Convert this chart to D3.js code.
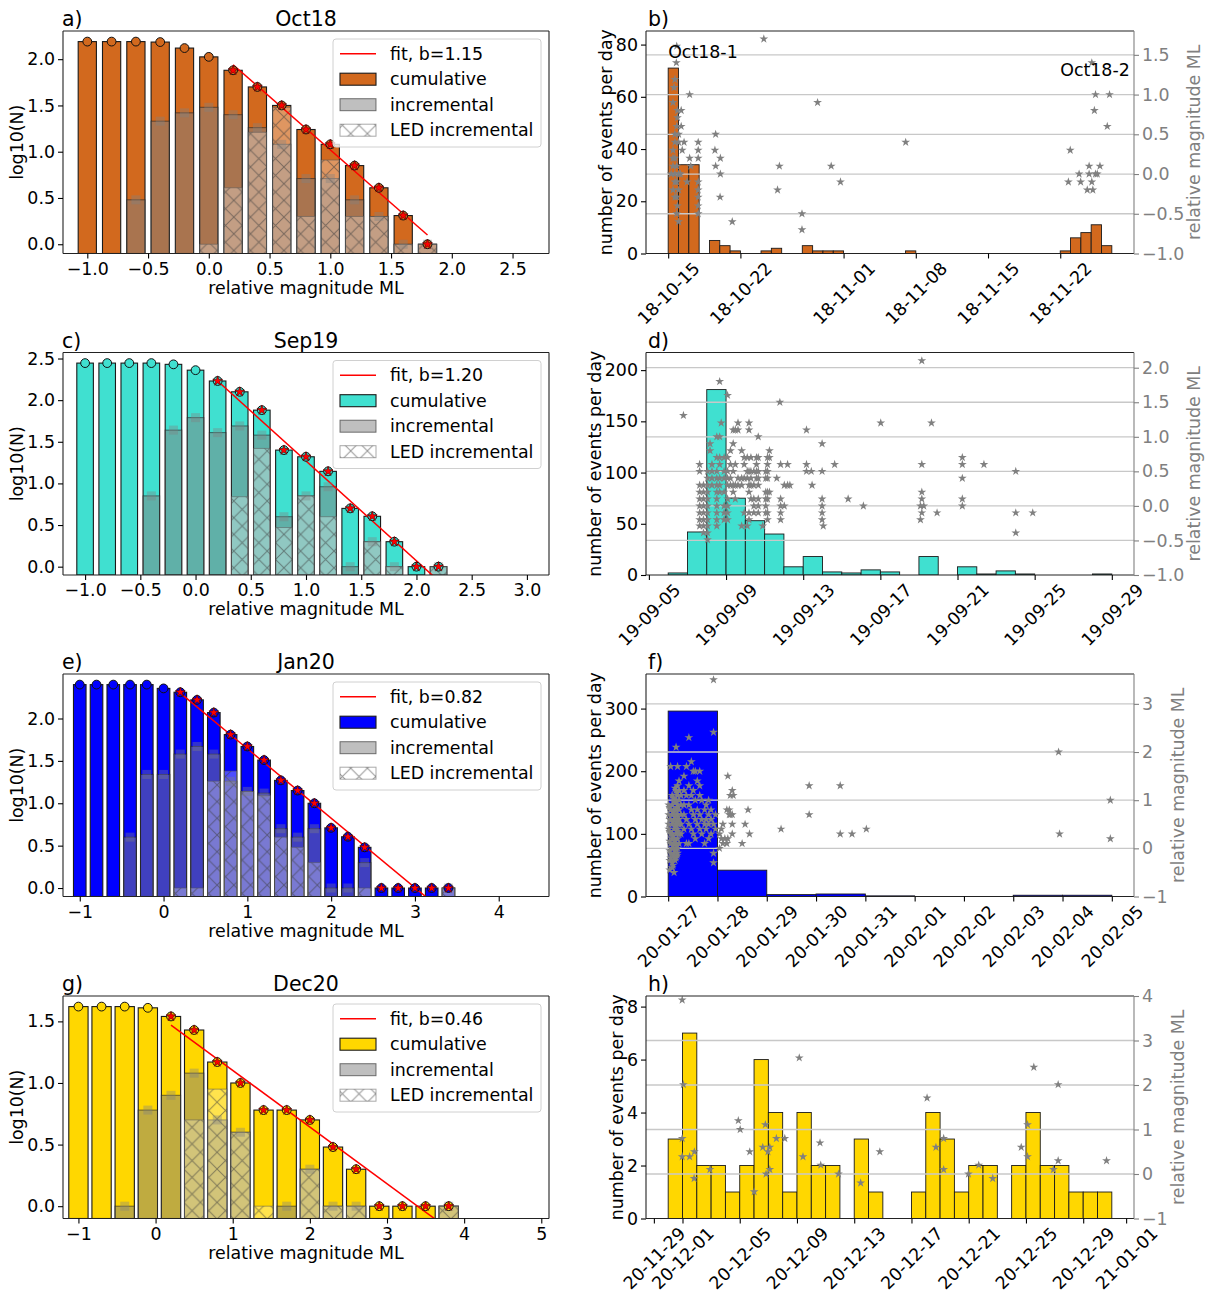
<!DOCTYPE html>
<html>
<head>
<meta charset="utf-8">
<script src="https://cdn.jsdelivr.net/npm/d3@7"></script>
<style>
  body { margin: 0; background: #fff; }
  svg { display: block; }
  text { font-family: "DejaVu Sans", sans-serif; }
</style>
</head>
<body>
<svg id="fig" width="1210" height="1293"></svg>
<script>
// ---------------- magnitude-frequency data (log10 N per magnitude bin) ----------------
const oct18Mag = [-1.0, -0.8, -0.6, -0.4, -0.2, 0.0, 0.2, 0.4, 0.6, 0.8, 1.0, 1.2, 1.4, 1.6, 1.8];
const oct18Cum = [2.19, 2.19, 2.19, 2.185, 2.12, 2.025, 1.88, 1.70, 1.50, 1.24, 1.08, 0.85, 0.61, 0.31, 0.0];
const oct18Inc = [null, null, 0.48, 1.33, 1.42, 1.48, 1.40, 1.26, 1.08, 0.71, 0.71, 0.48, 0.30, 0.0, 0.0];
const oct18Led = [null, null, null, null, null, 0.0, 0.61, 1.21, 1.48, 0.30, 0.91, 0.30, 0.30, 0.0, 0.0];

const sep19Mag = [-1.0, -0.8, -0.6, -0.4, -0.2, 0.0, 0.2, 0.4, 0.6, 0.8, 1.0, 1.2, 1.4, 1.6, 1.8, 2.0, 2.2];
const sep19Cum = [2.445, 2.445, 2.445, 2.445, 2.43, 2.36, 2.23, 2.10, 1.88, 1.40, 1.32, 1.145, 0.70, 0.605, 0.30, 0.0, 0.0];
const sep19Inc = [null, null, null, 0.85, 1.64, 1.79, 1.61, 1.69, 1.58, 0.60, 0.85, 0.96, 0.0, 0.30, 0.0, null, 0.0];
const sep19Led = [null, null, null, null, null, null, null, 0.84, 1.42, 0.47, 0.85, 0.60, null, 0.30, 0.0, null, 0.0];

const jan20Mag = [-1.0, -0.8, -0.6, -0.4, -0.2, 0.0, 0.2, 0.4, 0.6, 0.8, 1.0, 1.2, 1.4, 1.6, 1.8, 2.0, 2.2, 2.4, 2.6, 2.8, 3.0, 3.2, 3.4];
const jan20Cum = [2.40, 2.40, 2.40, 2.40, 2.40, 2.355, 2.31, 2.22, 2.07, 1.81, 1.67, 1.51, 1.27, 1.15, 1.00, 0.71, 0.605, 0.48, 0.0, 0.0, 0.0, 0.0, 0.0];
const jan20Inc = [null, null, null, 0.60, 1.34, 1.34, 1.58, 1.67, 1.58, 1.26, 1.14, 1.12, 0.70, 0.60, 0.70, 0.0, 0.0, 0.30, null, null, null, null, 0.0];
const jan20Led = [null, null, null, null, null, null, 0.0, 0.0, 1.26, 1.38, 1.14, 1.09, 0.60, 0.48, 0.30, null, null, 0.0, null, null, null, null, 0.0];

const dec20Mag = [-1.0, -0.7, -0.4, -0.1, 0.2, 0.5, 0.8, 1.1, 1.4, 1.7, 2.0, 2.3, 2.6, 2.9, 3.2, 3.5, 3.8];
const dec20Cum = [1.62, 1.62, 1.62, 1.61, 1.54, 1.43, 1.17, 1.00, 0.78, 0.78, 0.70, 0.48, 0.30, 0.0, 0.0, 0.0, 0.0];
const dec20Inc = [null, null, 0.0, 0.78, 0.90, 1.08, 0.70, 0.60, null, 0.0, 0.30, 0.0, 0.0, null, null, null, 0.0];
const dec20Led = [null, null, null, null, null, 0.70, 0.95, 0.60, 0.0, null, 0.30, 0.0, 0.0, null, null, null, 0.0];

// Gutenberg-Richter fits: log10 N = a - b*M, from the completeness magnitude mc
const fitB  = [1.15, 1.20, 0.82, 0.46];
const fitA  = [2.17, 2.47, 2.464, 1.562];
const fitMc = [0.2, 0.2, 0.2, 0.2];

const oct18MagTicks = [-1.0, -0.5, 0.0, 0.5, 1.0, 1.5, 2.0, 2.5];
const sep19MagTicks = [-1.0, -0.5, 0.0, 0.5, 1.0, 1.5, 2.0, 2.5, 3.0];
const jan20MagTicks = [-1, 0, 1, 2, 3, 4];
const dec20MagTicks = [-1, 0, 1, 2, 3, 4, 5];
const oct18LogTicks = [0.0, 0.5, 1.0, 1.5, 2.0];
const sep19LogTicks = [0.0, 0.5, 1.0, 1.5, 2.0, 2.5];
const jan20LogTicks = [0.0, 0.5, 1.0, 1.5, 2.0];
const dec20LogTicks = [0.0, 0.5, 1.0, 1.5];

// ---------------- daily event counts ----------------
const oct18Start = "2018-10-15";
const oct18Counts = [71, 34, 34, 0, 5, 3, 1, 0, 0, 1, 2, 0, 0, 3, 1, 1, 1, 0, 0, 0, 0, 0, 0, 1,
  0, 0, 0, 0, 0, 0, 0, 0, 0, 0, 0, 0, 0, 0, 1, 6, 8, 11, 3];
const sep19Start = "2019-09-06";
const sep19Counts = [2, 42, 181, 75, 53, 40, 8, 18, 3, 2, 5, 3, 0, 18, 0, 8, 1, 4, 1, 0, 0, 0, 1];
const jan20Start = "2020-01-27";
const jan20Counts = [296, 42, 3, 4, 1, 0, 0, 2, 2];
const dec20Start = "2020-11-30";
const dec20Counts = [3, 7, 2, 2, 1, 2, 6, 4, 1, 4, 2, 2, 0, 3, 1, 0, 0, 1, 4, 3, 1, 2, 2, 0, 2, 4, 2, 2, 1, 1, 1];

const oct18DateTicks = ["2018-10-15", "2018-10-22", "2018-11-01", "2018-11-08", "2018-11-15", "2018-11-22"];
const sep19DateTicks = ["2019-09-05", "2019-09-09", "2019-09-13", "2019-09-17", "2019-09-21", "2019-09-25", "2019-09-29"];
const jan20DateTicks = ["2020-01-27", "2020-01-28", "2020-01-29", "2020-01-30", "2020-01-31", "2020-02-01", "2020-02-02", "2020-02-03", "2020-02-04", "2020-02-05"];
const dec20DateTicks = ["2020-11-29", "2020-12-01", "2020-12-05", "2020-12-09", "2020-12-13", "2020-12-17", "2020-12-21", "2020-12-25", "2020-12-29", "2021-01-01"];

const oct18CountTicks = [0, 20, 40, 60, 80];
const sep19CountTicks = [0, 50, 100, 150, 200];
const jan20CountTicks = [0, 100, 200, 300];
const dec20CountTicks = [0, 2, 4, 6, 8];

const oct18MlTicks = [-1.0, -0.5, 0.0, 0.5, 1.0, 1.5];
const sep19MlTicks = [-1.0, -0.5, 0.0, 0.5, 1.0, 1.5, 2.0];
const jan20MlTicks = [-1, 0, 1, 2, 3];
const dec20MlTicks = [-1, 0, 1, 2, 3, 4];
const oct18MlRange = [-1, 1.8];
const sep19MlRange = [-1, 2.22];
const jan20MlRange = [-1, 3.62];
const dec20MlRange = [-1, 4.0];

// ---------------- individual events: [days after reference, relative ML] ----------------
const oct18EventRef = "2018-10-15";
const oct18Events = [
  [0.83,1.61],[0.79,1.40],[0.65,1.19],[0.57,1.09],[0.47,0.90],[0.90,0.80],[1.26,0.80],[0.90,0.71],
  [0.83,0.60],[1.26,0.60],[0.65,0.50],[1.01,0.50],[1.54,0.40],[0.65,0.40],[1.01,0.40],[0.47,0.30],
  [1.36,0.30],[0.65,0.20],[0.47,0.20],[0.83,0.10],[0.47,0.10],[1.01,0.0],[0.65,0.0],[0.29,0.0],
  [1.19,0.0],[0.83,-0.10],[0.65,-0.10],[0.47,-0.20],[1.01,-0.20],[0.83,-0.29],[0.65,-0.29],[0.90,-0.40],
  [0.83,-0.50],[1.01,-0.60],[1.83,-0.10],[2.08,0.20],[2.08,1.00],[2.19,0.10],[2.91,0.40],[2.91,0.30],
  [2.91,0.20],[2.91,-0.10],[2.91,-0.20],[2.91,-0.29],[2.91,-0.40],[2.91,-0.50],[4.60,0.50],[4.53,0.30],
  [4.60,0.10],[5.06,0.20],[5.06,0.0],[5.03,-0.29],[6.21,-0.60],[9.27,1.70],[10.78,0.10],[10.60,-0.20],
  [12.97,-0.50],[12.97,-0.70],[14.48,0.90],[15.80,0.10],[16.70,-0.10],[23.02,0.40],[38.79,-0.10],
  [38.97,0.30],[39.83,0.0],[39.98,-0.10],[40.62,-0.20],[40.80,0.10],[40.80,0.0],[41.06,-0.10],
  [41.16,-0.20],[41.42,0.0],[41.59,0.0],[41.85,0.10],[41.06,1.40],[41.42,1.00],[41.31,0.80],
  [42.56,0.60],[42.78,1.00]
];

// events grouped by time: [days after reference, [relative ML, ...]]
const sep19EventRef = "2019-09-05";
const sep19EventColumns = [
  [1.79,[1.31]],
  [2.63,[0.60,0.50,0.30,0.20,0.10,0.0,-0.10,-0.20,-0.29]],
  [2.83,[0.30,0.20,0.10,0.0,-0.10,-0.20,-0.29,-0.39]],
  [3.04,[-0.49,-0.39,-0.29,-0.20,-0.10,0.0,0.10,0.20,0.30,0.40,0.50]],
  [3.17,[0.90,0.80]],
  [3.27,[0.60,0.50,0.40,0.30]],
  [3.52,[1.00,0.70,0.50,0.40,0.30,0.20,0.10,0.0,-0.10,-0.20,-0.29]],
  [3.67,[1.80,1.00,0.70,0.60,0.40,0.30,0.20]],
  [3.75,[1.20]],
  [3.90,[0.70,0.50,0.40,0.20,0.0,-0.10,-0.20]],
  [4.08,[1.60,0.70,0.50,0.40,0.30,0.10,0.0,-0.10,-0.20]],
  [4.23,[0.80,0.60,0.40,0.30]],
  [4.37,[1.10,0.90,0.50,0.30,0.20]],
  [4.48,[1.10,0.60,0.30,0.10]],
  [4.62,[1.20,1.10,0.40,0.30]],
  [4.81,[0.80,0.40,0.30,-0.29]],
  [4.94,[0.70,0.60,0.40,-0.10]],
  [5.10,[0.70,0.50,0.40,-0.29]],
  [5.19,[1.20,1.10,0.50,0.30,0.20,-0.10,-0.20]],
  [5.29,[0.70,0.50,0.40,0.30,0.10]],
  [5.44,[0.50,0.30,0.10,0.0,-0.10]],
  [5.58,[0.70,0.60,0.50,0.40]],
  [5.67,[1.00,0.70,0.50,0.40,0.30,0.10,0.0,-0.10]],
  [5.90,[-0.29]],
  [6.06,[0.50,0.40,0.20,0.10,0.0,-0.10]],
  [6.15,[0.70,0.60,0.50,0.40,0.20,0.10,-0.10,-0.20]],
  [6.25,[0.80,0.70,0.20]],
  [6.63,[0.40]],
  [6.79,[1.50]],
  [6.83,[0.60,0.10,0.0,-0.10,-0.20]],
  [7.02,[0.30,0.0]],
  [7.19,[0.60,0.30]],
  [7.31,[0.30]],
  [8.17,[1.10,0.60,0.50]],
  [8.42,[0.50]],
  [8.46,[0.30]],
  [8.98,[0.90,0.50,0.10,0.0,-0.10,-0.20]],
  [9.04,[-0.29]],
  [9.63,[0.60]],
  [10.33,[0.10]],
  [11.12,[0.0]],
  [12.02,[1.20]],
  [14.08,[0.0,-0.20]],
  [14.15,[2.10,0.60,0.20,0.10,-0.10]],
  [14.25,[0.0]],
  [14.65,[1.20]],
  [14.94,[-0.10]],
  [16.25,[0.70,0.60,0.40,0.10,0.0]],
  [17.37,[0.60]],
  [19.02,[0.50,-0.10,-0.39]],
  [19.90,[-0.10]]
];

const jan20EventRef = "2020-01-27";
const jan20EventColumns = [
  [0.01,[0.90,0.70,0.50,0.40]],
  [0.03,[0.85,0.60,0.35,0.15,-0.05,-0.25,-0.45]],
  [0.05,[1.70,0.80,0.60,0.30,0.10,-0.10,-0.20]],
  [0.08,[1.10,0.90,0.70,0.50,0.30,0.20,0.0,-0.30,-0.40]],
  [0.10,[1.05,0.75,0.55,0.25,0.05,-0.15,-0.35]],
  [0.12,[1.00,0.80,0.60,0.40,0.20,0.10,-0.10,-0.20,-0.50]],
  [0.14,[1.25,0.95,0.65,0.45,0.15,-0.05,-0.25]],
  [0.16,[2.10,1.20,1.00,0.80,0.70,0.50,0.30,0.10,0.0,-0.20]],
  [0.18,[1.15,0.85,0.55,0.35,0.05,-0.15]],
  [0.19,[1.70,1.30,1.10,0.90,0.70,0.60,0.40,0.20,0.0,-0.10]],
  [0.22,[1.40,1.20,1.00,0.80,0.60,0.50,0.30,0.10]],
  [0.26,[1.10,0.90,0.70,0.50,0.30]],
  [0.32,[1.50,1.20,0.90,0.70,0.40]],
  [0.37,[1.70,1.10,0.60,0.10]],
  [0.42,[2.30,1.30,0.90,0.50,0.10]],
  [0.47,[1.80,1.10,0.80,0.40]],
  [0.51,[1.60,1.20,0.70,0.30]],
  [0.55,[1.60,1.00,0.60,0.20]],
  [0.59,[1.40,0.80,0.50]],
  [0.64,[1.60,1.30,1.10,0.70,0.40]],
  [0.68,[1.00,0.60,0.30]],
  [0.74,[0.80,0.50,0.10]],
  [0.77,[0.90,0.60,0.40]],
  [0.82,[1.00,0.70,0.50,0.20]],
  [0.87,[0.80,0.60,0.30]],
  [0.92,[3.50,2.41,0.50,-0.10,-0.30]],
  [0.96,[0.70,0.40]],
  [1.04,[0.30,0.0]],
  [1.08,[0.40,0.20]],
  [1.11,[0.50,0.10]],
  [1.15,[0.20]],
  [1.19,[0.80,0.10]],
  [1.21,[1.50,0.20]],
  [1.24,[0.80,0.70]],
  [1.26,[1.10,0.70]],
  [1.30,[1.20,0.70,0.50,0.30]],
  [1.32,[1.10]],
  [1.50,[0.10]],
  [1.56,[0.50]],
  [1.62,[0.80]],
  [1.65,[0.30]],
  [2.29,[0.40]],
  [2.86,[1.30,0.70]],
  [3.49,[1.30,0.30]],
  [3.73,[0.30]],
  [4.02,[0.40]],
  [7.92,[2.00]],
  [7.94,[0.30]],
  [8.97,[1.00,0.20]]
];

const dec20EventRef = "2020-11-30";
const dec20Events = [
  [0.98,3.91],[1.06,2.01],[0.98,0.80],[0.98,0.39],[1.50,0.39],[1.83,0.50],[1.81,-0.10],[2.92,0.10],
  [4.90,1.20],[5.03,1.00],[5.70,0.50],[6.01,-0.40],[6.61,0.60],[6.79,1.11],[6.97,0.50],[7.10,0.60],
  [6.84,0.0],[7.10,0.10],[7.56,0.80],[8.15,0.80],[9.16,2.61],[9.42,0.39],[10.61,0.70],[10.66,0.20],
  [11.90,0.0],[13.45,-0.20],[14.79,0.50],[18.09,1.71],[18.71,0.60],[19.25,0.80],[19.25,0.10],
  [20.98,0.0],[21.70,0.20],[22.68,-0.10],[24.67,0.60],[25.11,1.11],[25.11,0.39],[25.55,2.40],
  [26.92,0.10],[27.25,2.01],[27.25,0.30],[30.63,0.30]
];

// ---------------- layout ----------------
const PH = 222.5;
const ROWS = [31, 352.5, 674, 996];
const LX = [63, 549], RX = [646, 1134];
const FS = 17.4, TFS = 20.5;
const GRAY = "#808080";
const DAY = 864e5;

const svg = d3.select("#fig");
const defs = svg.append("defs");
const HS = 16.7;
const pat = defs.append("pattern").attr("id", "xhatch")
  .attr("patternUnits", "userSpaceOnUse").attr("width", HS).attr("height", HS);
pat.append("path").attr("d", `M0,0L${HS},${HS}M${HS},0L0,${HS}`)
  .attr("stroke", "rgba(60,60,60,0.55)").attr("stroke-width", 1).attr("fill", "none");

const utc = s => new Date(s + "T00:00:00Z");
const flatten = cols => cols.flatMap(([d, ms]) => ms.map(m => [d, m]));
const starSym = d3.symbol().type(d3.symbolStar);

function styleAxis(ax, color) {
  ax.select(".domain").remove();
  ax.selectAll("line").attr("stroke", color || "#000").attr("stroke-width", 1.1);
  ax.selectAll("text").attr("font-size", FS).attr("fill", color || "#000")
    .attr("font-family", '"DejaVu Sans", sans-serif');
}

function frame(g, x0, x1, y0, y1, rightColor) {
  g.append("line").attr("x1", x0).attr("x2", x1).attr("y1", y1).attr("y2", y1).attr("stroke", "#222").attr("stroke-width", 1.1);
  g.append("line").attr("x1", x0).attr("x2", x1).attr("y1", y0).attr("y2", y0).attr("stroke", "#222").attr("stroke-width", 1.1);
  g.append("line").attr("x1", x0).attr("x2", x0).attr("y1", y0).attr("y2", y1).attr("stroke", "#222").attr("stroke-width", 1.1);
  g.append("line").attr("x1", x1).attr("x2", x1).attr("y1", y0).attr("y2", y1).attr("stroke", rightColor || "#222").attr("stroke-width", 1.1);
}

// ---------------- magnitude-frequency panels ----------------
const magPanels = [
  { key: "a", label: "a)", title: "Oct18", color: "#d2691e", mags: oct18Mag, cum: oct18Cum, inc: oct18Inc, led: oct18Led,
    barW: 0.15, xlim: [-1.2, 2.8], xticks: oct18MagTicks, xfmt: ".1f", yticks: oct18LogTicks },
  { key: "c", label: "c)", title: "Sep19", color: "#40e0d0", mags: sep19Mag, cum: sep19Cum, inc: sep19Inc, led: sep19Led,
    barW: 0.15, xlim: [-1.2, 3.2], xticks: sep19MagTicks, xfmt: ".1f", yticks: sep19LogTicks },
  { key: "e", label: "e)", title: "Jan20", color: "#0000ff", mags: jan20Mag, cum: jan20Cum, inc: jan20Inc, led: jan20Led,
    barW: 0.15, xlim: [-1.2, 4.6], xticks: jan20MagTicks, xfmt: "d", yticks: jan20LogTicks },
  { key: "g", label: "g)", title: "Dec20", color: "#ffd700", mags: dec20Mag, cum: dec20Cum, inc: dec20Inc, led: dec20Led,
    barW: 0.25, xlim: [-1.2, 5.1], xticks: dec20MagTicks, xfmt: "d", yticks: dec20LogTicks }
];

function magPanel(p, idx) {
  const [x0, x1] = LX, y0 = ROWS[idx], y1 = y0 + PH;
  const x = d3.scaleLinear().domain(p.xlim).range([x0, x1]);
  const lo = -0.1, hi = d3.max(p.cum);
  const y = d3.scaleLinear().domain([lo, hi + 0.05 * (hi - lo)]).range([y1, y0]);
  const b = fitB[idx], a = fitA[idx], mc = fitMc[idx];

  const cid = "clip-" + p.key;
  defs.append("clipPath").attr("id", cid).append("rect")
    .attr("x", x0).attr("y", y0).attr("width", x1 - x0).attr("height", y1 - y0);
  const g = svg.append("g");
  const pg = g.append("g").attr("clip-path", `url(#${cid})`);
  const hw = p.barW / 2;
  const bar = (m, v) => pg.append("rect")
    .attr("x", x(m - hw)).attr("width", x(m + hw) - x(m - hw))
    .attr("y", y(v)).attr("height", y(lo) - y(v));

  // cumulative counts
  p.mags.forEach((m, i) => bar(m, p.cum[i]).attr("fill", p.color).attr("stroke", "#1a1a1a").attr("stroke-width", 1.1));
  // incremental counts
  p.mags.forEach((m, i) => {
    if (p.inc[i] == null) return;
    bar(m, p.inc[i]).attr("fill", GRAY).attr("fill-opacity", 0.5)
      .attr("stroke", "#222").attr("stroke-opacity", 0.6).attr("stroke-width", 1);
  });
  // LED incremental counts (hatched)
  p.mags.forEach((m, i) => {
    if (p.led[i] == null) return;
    bar(m, p.led[i]).attr("fill", "#fff").attr("fill-opacity", 0.3).attr("stroke", "none");
    bar(m, p.led[i]).attr("fill", "url(#xhatch)").attr("stroke", "#555").attr("stroke-opacity", 0.5).attr("stroke-width", 1);
  });
  // incremental markers
  p.mags.forEach((m, i) => {
    if (p.inc[i] == null) return;
    g.append("rect").attr("x", x(m) - 4.5).attr("y", y(p.inc[i]) - 4.5).attr("width", 9).attr("height", 9)
      .attr("fill", GRAY).attr("fill-opacity", 0.38);
  });
  // fit line
  const mEnd = p.mags[p.mags.length - 1];
  pg.append("line").attr("x1", x(mc)).attr("y1", y(a - b * mc)).attr("x2", x(mEnd)).attr("y2", y(a - b * mEnd))
    .attr("stroke", "#ff0000").attr("stroke-width", 1.5);
  // cumulative markers; stars mark the bins used in the fit
  p.mags.forEach((m, i) => {
    g.append("circle").attr("cx", x(m)).attr("cy", y(p.cum[i])).attr("r", 4.4)
      .attr("fill", p.color).attr("stroke", "#111").attr("stroke-width", 1);
    if (m >= mc - 1e-9) {
      g.append("path").attr("d", starSym.size(30)()).attr("transform", `translate(${x(m)},${y(p.cum[i])})`)
        .attr("fill", "#ff0000").attr("stroke", "#550000").attr("stroke-width", 0.6);
    }
  });

  frame(g, x0, x1, y0, y1);

  // axes
  const ax = g.append("g").attr("transform", `translate(0,${y1})`)
    .call(d3.axisBottom(x).tickValues(p.xticks).tickFormat(d3.format(p.xfmt)).tickSize(5).tickPadding(4).tickSizeOuter(0));
  styleAxis(ax);
  const ay = g.append("g").attr("transform", `translate(${x0},0)`)
    .call(d3.axisLeft(y).tickValues(p.yticks).tickFormat(d3.format(".1f")).tickSize(5).tickPadding(3).tickSizeOuter(0));
  styleAxis(ay);

  // labels
  g.append("text").attr("x", (x0 + x1) / 2).attr("y", y1 + 34).attr("text-anchor", "middle")
    .attr("dominant-baseline", "central").attr("font-size", FS).text("relative magnitude ML");
  let minX = x0;
  ay.selectAll("text").each(function () { minX = Math.min(minX, this.getBBox().x + x0); });
  g.append("text").attr("transform", `translate(${minX - 10},${(y0 + y1) / 2}) rotate(-90)`)
    .attr("text-anchor", "middle").attr("dominant-baseline", "central").attr("font-size", FS).text("log10(N)");
  g.append("text").attr("x", (x0 + x1) / 2).attr("y", y0 - 5).attr("text-anchor", "middle")
    .attr("font-size", TFS).text(p.title);
  g.append("text").attr("x", x0 - 1).attr("y", y0 - 5).attr("font-size", TFS).text(p.label);

  // legend
  const bw = 208, bh = 108, bx = x1 - 8 - bw, by = y0 + 8;
  const lg = g.append("g");
  lg.append("rect").attr("x", bx).attr("y", by).attr("width", bw).attr("height", bh).attr("rx", 3)
    .attr("fill", "#fff").attr("fill-opacity", 0.8).attr("stroke", "#d0d0d0").attr("stroke-width", 1);
  const rows = [14.7, 40.2, 65.7, 91.2].map(d => by + d);
  const hx = bx + 7, hwid = 36, tx = bx + 57;
  lg.append("line").attr("x1", hx).attr("x2", hx + hwid).attr("y1", rows[0]).attr("y2", rows[0])
    .attr("stroke", "#ff0000").attr("stroke-width", 1.5);
  lg.append("rect").attr("x", hx).attr("y", rows[1] - 6).attr("width", hwid).attr("height", 12)
    .attr("fill", p.color).attr("stroke", "#1a1a1a").attr("stroke-width", 1.1);
  lg.append("rect").attr("x", hx).attr("y", rows[2] - 6).attr("width", hwid).attr("height", 12)
    .attr("fill", GRAY).attr("fill-opacity", 0.5).attr("stroke", "#222").attr("stroke-opacity", 0.6);
  lg.append("rect").attr("x", hx).attr("y", rows[3] - 6).attr("width", hwid).attr("height", 12)
    .attr("fill", "url(#xhatch)").attr("stroke", "#555").attr("stroke-opacity", 0.5);
  const names = ["fit, b=" + b.toFixed(2), "cumulative", "incremental", "LED incremental"];
  names.forEach((t, i) => lg.append("text").attr("x", tx).attr("y", rows[i]).attr("dominant-baseline", "central")
    .attr("font-size", FS).text(t));
}

// ---------------- time-series panels ----------------
const timePanels = [
  { key: "b", label: "b)", color: "#d2691e", start: oct18Start, counts: oct18Counts, dateTicks: oct18DateTicks,
    countTicks: oct18CountTicks, mlTicks: oct18MlTicks, mlRange: oct18MlRange, mlFmt: ".1f",
    eventRef: oct18EventRef, events: oct18Events,
    notes: [["2018-10-15", 75, "Oct18-1"], ["2018-11-22", 68, "Oct18-2"]] },
  { key: "d", label: "d)", color: "#40e0d0", start: sep19Start, counts: sep19Counts, dateTicks: sep19DateTicks,
    countTicks: sep19CountTicks, mlTicks: sep19MlTicks, mlRange: sep19MlRange, mlFmt: ".1f",
    eventRef: sep19EventRef, events: flatten(sep19EventColumns), notes: [] },
  { key: "f", label: "f)", color: "#0000ff", start: jan20Start, counts: jan20Counts, dateTicks: jan20DateTicks,
    countTicks: jan20CountTicks, mlTicks: jan20MlTicks, mlRange: jan20MlRange, mlFmt: "d",
    eventRef: jan20EventRef, events: flatten(jan20EventColumns), notes: [] },
  { key: "h", label: "h)", color: "#ffd700", start: dec20Start, counts: dec20Counts, dateTicks: dec20DateTicks,
    countTicks: dec20CountTicks, mlTicks: dec20MlTicks, mlRange: dec20MlRange, mlFmt: "d",
    eventRef: dec20EventRef, events: dec20Events, notes: [] }
];

function timePanel(p, idx) {
  const [x0, x1] = RX, y0 = ROWS[idx], y1 = y0 + PH;
  const start = utc(p.start), n = p.counts.length;
  const x = d3.scaleUtc().domain([new Date(+start - 0.05 * n * DAY), new Date(+start + 1.05 * n * DAY)]).range([x0, x1]);
  const y = d3.scaleLinear().domain([0, 1.2 * d3.max(p.counts)]).range([y1, y0]);
  const y2 = d3.scaleLinear().domain(p.mlRange).range([y1, y0]);
  const cid = "clip-" + p.key;
  defs.append("clipPath").attr("id", cid).append("rect")
    .attr("x", x0).attr("y", y0).attr("width", x1 - x0).attr("height", y1 - y0);
  const g = svg.append("g");
  const pg = g.append("g").attr("clip-path", `url(#${cid})`);

  // daily counts
  p.counts.forEach((c, i) => {
    if (!c) return;
    const d0 = new Date(+start + i * DAY), d1 = new Date(+start + (i + 1) * DAY);
    pg.append("rect").attr("x", x(d0)).attr("width", x(d1) - x(d0)).attr("y", y(c)).attr("height", y(0) - y(c))
      .attr("fill", p.color).attr("stroke", "#1a1a1a").attr("stroke-width", 0.9);
  });
  // magnitude grid
  p.mlTicks.forEach(t => {
    if (t <= p.mlRange[0] || t >= p.mlRange[1]) return;
    pg.append("line").attr("x1", x0).attr("x2", x1).attr("y1", y2(t)).attr("y2", y2(t))
      .attr("stroke", "#c8c8c8").attr("stroke-width", 1.3);
  });
  // events
  const ref = utc(p.eventRef);
  p.events.forEach(([d, m]) => {
    g.append("path").attr("d", starSym.size(24)()).attr("transform", `translate(${x(new Date(+ref + d * DAY))},${y2(m)})`)
      .attr("fill", GRAY);
  });
  // annotations
  p.notes.forEach(([d, v, t]) => g.append("text").attr("x", x(utc(d))).attr("y", y(v)).attr("font-size", FS).text(t));

  frame(g, x0, x1, y0, y1, GRAY);

  // x axis with rotated date labels
  const fmt = d3.utcFormat("%y-%m-%d");
  const ax = g.append("g").attr("transform", `translate(0,${y1})`)
    .call(d3.axisBottom(x).tickValues(p.dateTicks.map(utc)).tickFormat(fmt).tickSize(5).tickSizeOuter(0));
  styleAxis(ax);
  ax.selectAll(".tick text").each(function () {
    const t = d3.select(this);
    const w = this.getComputedTextLength(), h = FS * 0.95;
    const half = (w + h) / Math.SQRT2 / 2;
    t.attr("y", null).attr("dy", null).attr("text-anchor", "middle").attr("dominant-baseline", "central")
      .attr("transform", `translate(0,${6 + half}) rotate(-45)`);
  });

  const ay = g.append("g").attr("transform", `translate(${x0},0)`)
    .call(d3.axisLeft(y).tickValues(p.countTicks).tickFormat(d3.format("d")).tickSize(5).tickPadding(3).tickSizeOuter(0));
  styleAxis(ay);
  const ar = g.append("g").attr("transform", `translate(${x1},0)`)
    .call(d3.axisRight(y2).tickValues(p.mlTicks).tickFormat(d3.format(p.mlFmt)).tickSize(5).tickPadding(3).tickSizeOuter(0));
  styleAxis(ar, GRAY);

  let minX = x0;
  ay.selectAll("text").each(function () { minX = Math.min(minX, this.getBBox().x + x0); });
  g.append("text").attr("transform", `translate(${minX - 10},${(y0 + y1) / 2}) rotate(-90)`)
    .attr("text-anchor", "middle").attr("dominant-baseline", "central").attr("font-size", FS).text("number of events per day");
  let maxX = x1;
  ar.selectAll("text").each(function () { const bb = this.getBBox(); maxX = Math.max(maxX, bb.x + bb.width + x1); });
  g.append("text").attr("transform", `translate(${maxX + 10},${(y0 + y1) / 2}) rotate(-90)`)
    .attr("text-anchor", "middle").attr("dominant-baseline", "central").attr("font-size", FS).attr("fill", GRAY)
    .text("relative magnitude ML");
  g.append("text").attr("x", x0 + 2).attr("y", y0 - 5).attr("font-size", TFS).text(p.label);
}

magPanels.forEach(magPanel);
timePanels.forEach(timePanel);
</script>
</body>
</html>
